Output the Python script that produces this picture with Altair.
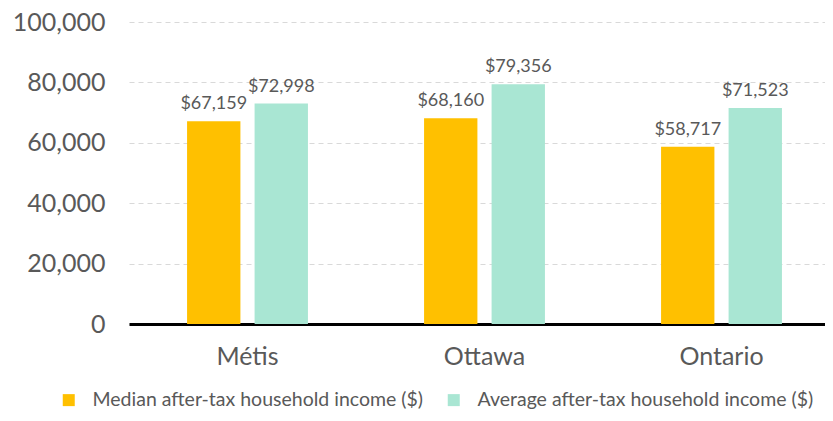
import altair as alt
import pandas as pd

categories = ["Métis", "Ottawa", "Ontario"]
series = ["Median after-tax household income ($)", "Average after-tax household income ($)"]
median_vals = [67159, 68160, 58717]
average_vals = [72998, 79356, 71523]
colors = ["#FFC000", "#A9E6D3"]

rows = []
for c, m, a in zip(categories, median_vals, average_vals):
    rows.append({"cat": c, "series": series[0], "value": m})
    rows.append({"cat": c, "series": series[1], "value": a})
df = pd.DataFrame(rows)

FONT = "Lato"
TXT = "#595959"

x = alt.X("cat:N", sort=categories, title=None,
          scale=alt.Scale(paddingInner=0.49, paddingOuter=0.245, range=[0, 711]),
          axis=alt.Axis(labelAngle=0, labelFontSize=25, labelColor=TXT, labelFont=FONT,
                        domainColor="#000000", domainWidth=3, ticks=False, labelPadding=20))
xo = alt.XOffset("series:N", sort=series, scale=alt.Scale(paddingInner=0.21))
y = alt.Y("value:Q", title=None,
          scale=alt.Scale(domain=[0, 100000]),
          axis=alt.Axis(values=[0, 20000, 40000, 60000, 80000, 100000], format=",d",
                        labelFontSize=25, labelColor=TXT, labelFont=FONT, labelPadding=24,
                        ticks=False, domain=False, gridColor="#D9D9D9", gridDash=[5, 4],
                        gridWidth=1))

base = alt.Chart(df)
bars = base.mark_bar().encode(
    x=x, xOffset=xo, y=y,
    color=alt.Color("series:N", sort=series, title=None,
                    scale=alt.Scale(domain=series, range=colors),
                    legend=alt.Legend(orient="none", legendX=-70, legendY=368, direction="horizontal",
                                      symbolType="square", symbolSize=144, symbolStrokeWidth=0,
                                      labelFontSize=19.5, labelColor=TXT, labelFont=FONT,
                                      columnPadding=20, labelLimit=400, symbolOffset=0,
                                      labelOffset=14)),
)
labels = base.mark_text(dy=-8, baseline="bottom", fontSize=18, font=FONT, color=TXT).encode(
    x=alt.X("cat:N", sort=categories), xOffset=alt.XOffset("series:N", sort=series), y="value:Q",
    text=alt.Text("value:Q", format="$,.0f"),
)

chart = (bars + labels).properties(
    width=696, height=302,
    autosize=alt.AutoSizeParams(type="none"),
    padding={"left": 121, "top": 14, "right": 0, "bottom": 89},
    background="white",
).configure_view(strokeWidth=0, stroke=None)

chart.save("out.html", embed_options={"renderer": "svg", "actions": False})
